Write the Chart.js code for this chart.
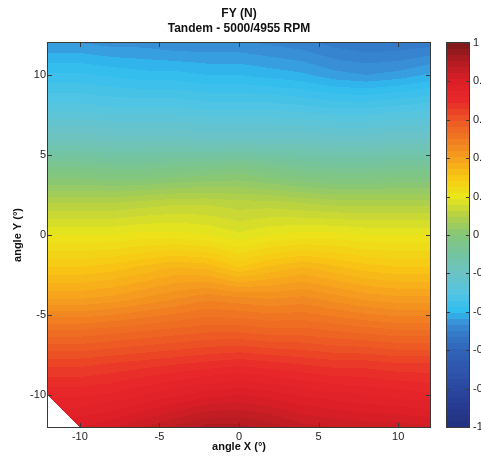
<!DOCTYPE html>
<html>
<head>
<meta charset="utf-8">
<script src="https://cdn.jsdelivr.net/npm/chart.js@4.4.1/dist/chart.umd.min.js"></script>
<style>
  html, body { margin: 0; padding: 0; background: #fff; }
  #wrap { position: relative; width: 481px; height: 457px; overflow: hidden; }
  #main { position: absolute; left: 0; top: 0; }
  #bar { position: absolute; left: 440px; top: 0; }
</style>
</head>
<body>
<div id="wrap">
  <canvas id="main" width="440" height="457"></canvas>
  <canvas id="bar" width="41" height="457"></canvas>
</div>
<script>
// grid nodes (degrees)
const angleX = [-12, -10, -8, -6, -4, -2, 0, 2, 4, 6, 8, 10, 12];
const angleY = [-12, -10, -8, -6, -4, -2, 0, 2, 4, 6, 8, 10, 12];

// FY values, one row per angleY (bottom row first), one column per angleX
const fyRows = [
  [NaN, 0.80, 0.82, 0.85, 0.88, 0.91, 0.91, 0.89, 0.86, 0.85, 0.84, 0.84, 0.83],
  [0.72, 0.72, 0.73, 0.75, 0.77, 0.79, 0.80, 0.79, 0.77, 0.76, 0.75, 0.74, 0.73],
  [0.64, 0.64, 0.65, 0.66, 0.67, 0.68, 0.69, 0.68, 0.67, 0.66, 0.66, 0.65, 0.65],
  [0.53, 0.53, 0.54, 0.55, 0.56, 0.57, 0.57, 0.56, 0.56, 0.55, 0.54, 0.53, 0.53],
  [0.40, 0.40, 0.41, 0.43, 0.45, 0.47, 0.46, 0.45, 0.46, 0.44, 0.42, 0.41, 0.41],
  [0.30, 0.30, 0.31, 0.33, 0.35, 0.34, 0.30, 0.33, 0.35, 0.33, 0.31, 0.30, 0.30],
  [0.20, 0.20, 0.20, 0.21, 0.21, 0.20, 0.18, 0.20, 0.21, 0.21, 0.20, 0.20, 0.20],
  [0.10, 0.10, 0.10, 0.11, 0.12, 0.12, 0.11, 0.11, 0.10, 0.09, 0.09, 0.09, 0.09],
  [-0.03, -0.03, -0.04, -0.04, -0.03, -0.02, -0.01, -0.03, -0.05, -0.06, -0.06, -0.05, -0.05],
  [-0.18, -0.18, -0.19, -0.19, -0.19, -0.20, -0.20, -0.20, -0.20, -0.21, -0.21, -0.20, -0.20],
  [-0.29, -0.29, -0.30, -0.30, -0.30, -0.31, -0.31, -0.31, -0.32, -0.33, -0.33, -0.32, -0.31],
  [-0.37, -0.37, -0.38, -0.39, -0.39, -0.40, -0.40, -0.41, -0.42, -0.44, -0.45, -0.44, -0.42],
  [-0.45, -0.45, -0.46, -0.46, -0.47, -0.47, -0.47, -0.48, -0.49, -0.51, -0.52, -0.52, -0.51]
];

const xTicks = [-10, -5, 0, 5, 10];
const yTicks = [-10, -5, 0, 5, 10];
const cbTicks = [-1, -0.8, -0.6, -0.4, -0.2, 0, 0.2, 0.4, 0.6, 0.8, 1];
const titleLines = ['FY (N)', 'Tandem - 5000/4955 RPM'];

// colormap as seen on the colorbar
const cmap = [
  [-1.0, '#23307d'], [-0.9, '#263a8f'], [-0.8, '#2b48a0'], [-0.7, '#2f55ad'],
  [-0.6, '#3064b8'], [-0.5, '#357ecb'], [-0.45, '#3a95da'], [-0.4, '#2ebdf0'],
  [-0.3, '#55c5e2'], [-0.2, '#6cc3c4'], [-0.1, '#74c4a0'], [0.0, '#84c67a'],
  [0.1, '#b4d044'], [0.2, '#ebe61a'], [0.3, '#f8c814'], [0.4, '#f6a01e'],
  [0.5, '#f07a22'], [0.6, '#ec5624'], [0.7, '#e8282a'], [0.8, '#dc1e26'],
  [0.9, '#b41c22'], [1.0, '#7a1818']
].map(([v, h]) => [v, parseInt(h.slice(1, 3), 16), parseInt(h.slice(3, 5), 16), parseInt(h.slice(5, 7), 16)]);

const FONT = 'Arial, "Liberation Sans", sans-serif';
const LEVEL = 0.025;

function colorOf(v) {
  if (v <= cmap[0][0]) return cmap[0].slice(1);
  for (let i = 1; i < cmap.length; i++) {
    if (v <= cmap[i][0]) {
      const a = cmap[i - 1], b = cmap[i];
      const t = (v - a[0]) / (b[0] - a[0]);
      return [1, 2, 3].map(k => Math.round(a[k] + (b[k] - a[k]) * t));
    }
  }
  return cmap[cmap.length - 1].slice(1);
}

function cellIndex(arr, v) {
  let i = 0;
  while (i < arr.length - 2 && v > arr[i + 1]) i++;
  return i;
}

function sampleFY(xv, yv) {
  const i = cellIndex(angleX, xv), j = cellIndex(angleY, yv);
  const u = (xv - angleX[i]) / (angleX[i + 1] - angleX[i]);
  const w = (yv - angleY[j]) / (angleY[j + 1] - angleY[j]);
  const v00 = fyRows[j][i], v10 = fyRows[j][i + 1];
  const v01 = fyRows[j + 1][i], v11 = fyRows[j + 1][i + 1];
  if (isNaN(v00)) {
    if (u + w < 1) return null;
    return v10 * (1 - w) + v01 * (1 - u) + v11 * (u + w - 1);
  }
  if (isNaN(v10) || isNaN(v01) || isNaN(v11)) return null;
  return v00 * (1 - u) * (1 - w) + v10 * u * (1 - w) + v01 * (1 - u) * w + v11 * u * w;
}

// filled contour of the FY grid, drawn through the chart scales
const fieldPlugin = {
  id: 'fyField',
  beforeDatasetsDraw(chart) {
    const { ctx, chartArea: a, scales: { x, y } } = chart;
    const w = Math.round(a.right - a.left), h = Math.round(a.bottom - a.top);
    const off = document.createElement('canvas');
    off.width = w; off.height = h;
    const octx = off.getContext('2d');
    const img = octx.createImageData(w, h);
    for (let py = 0; py < h; py++) {
      const yv = y.getValueForPixel(a.top + py + 0.5);
      for (let px = 0; px < w; px++) {
        const xv = x.getValueForPixel(a.left + px + 0.5);
        const v = sampleFY(xv, yv);
        if (v === null) continue;
        const c = colorOf((Math.floor(v / LEVEL) + 0.5) * LEVEL);
        const k = (py * w + px) * 4;
        img.data[k] = c[0]; img.data[k + 1] = c[1]; img.data[k + 2] = c[2]; img.data[k + 3] = 255;
      }
    }
    octx.putImageData(img, 0, 0);
    ctx.drawImage(off, a.left, a.top);
  },
  afterDatasetsDraw(chart) {
    const { ctx, chartArea: a, scales: { x, y } } = chart;
    ctx.save();
    ctx.strokeStyle = '#3a3a3a';
    ctx.lineWidth = 1;
    ctx.beginPath();
    xTicks.forEach(t => {
      const p = Math.round(x.getPixelForValue(t)) + 0.5;
      ctx.moveTo(p, a.bottom); ctx.lineTo(p, a.bottom - 4);
      ctx.moveTo(p, a.top); ctx.lineTo(p, a.top + 4);
    });
    yTicks.forEach(t => {
      const p = Math.round(y.getPixelForValue(t)) + 0.5;
      ctx.moveTo(a.left, p); ctx.lineTo(a.left + 4, p);
      ctx.moveTo(a.right, p); ctx.lineTo(a.right - 4, p);
    });
    ctx.stroke();
    ctx.strokeRect(a.left - 0.5, a.top - 0.5, a.right - a.left + 1, a.bottom - a.top + 1);
    ctx.restore();
  }
};

new Chart(document.getElementById('main'), {
  type: 'scatter',
  data: { datasets: [] },
  options: {
    responsive: false,
    animation: false,
    layout: { padding: { right: 10 } },
    plugins: {
      legend: { display: false },
      tooltip: { enabled: false },
      title: {
        display: true,
        text: titleLines,
        fullSize: false,
        color: '#111',
        font: { family: FONT, size: 12, weight: 'bold', lineHeight: 1.25 },
        padding: { top: 6, bottom: 7 }
      }
    },
    scales: {
      x: {
        type: 'linear', min: -12, max: 12,
        afterBuildTicks: s => { s.ticks = xTicks.map(v => ({ value: v })); },
        afterFit: s => { s.height = 30; },
        grid: { display: false, drawTicks: false },
        border: { display: false },
        ticks: { padding: 3, color: '#222', font: { family: FONT, size: 11 } },
        title: {
          display: true, text: 'angle X (°)', color: '#111',
          font: { family: FONT, size: 11, weight: 'bold' },
          padding: { top: 0, bottom: 3 }
        }
      },
      y: {
        type: 'linear', min: -12, max: 12,
        afterBuildTicks: s => { s.ticks = yTicks.map(v => ({ value: v })); },
        afterFit: s => { s.width = 48; },
        grid: { display: false, drawTicks: false },
        border: { display: false },
        ticks: { padding: 2, color: '#222', font: { family: FONT, size: 11 } },
        title: {
          display: true, text: 'angle Y (°)', color: '#111',
          font: { family: FONT, size: 11, weight: 'bold' },
          padding: { top: 11, bottom: 0 }
        }
      }
    }
  },
  plugins: [fieldPlugin]
});

// colorbar
const colorbarPlugin = {
  id: 'colorbar',
  beforeDatasetsDraw(chart) {
    const { ctx, chartArea: a, scales: { y } } = chart;
    const bands = 64;
    for (let py = Math.floor(a.top); py < Math.ceil(a.bottom); py++) {
      const v = y.getValueForPixel(py + 0.5);
      const b = Math.min(bands - 1, Math.max(0, Math.floor((v + 1) / 2 * bands)));
      const c = colorOf(-1 + (b + 0.5) / bands * 2);
      ctx.fillStyle = `rgb(${c[0]},${c[1]},${c[2]})`;
      ctx.fillRect(a.left, py, a.right - a.left, 1);
    }
    ctx.save();
    ctx.strokeStyle = '#3a3a3a';
    ctx.lineWidth = 1;
    ctx.beginPath();
    cbTicks.forEach(t => {
      const p = Math.round(y.getPixelForValue(t)) + 0.5;
      ctx.moveTo(a.left, p); ctx.lineTo(a.left + 3, p);
      ctx.moveTo(a.right, p); ctx.lineTo(a.right - 3, p);
    });
    ctx.stroke();
    ctx.strokeRect(a.left - 0.5, a.top - 0.5, a.right - a.left + 1, a.bottom - a.top + 1);
    ctx.restore();
  }
};

new Chart(document.getElementById('bar'), {
  type: 'scatter',
  data: { datasets: [] },
  options: {
    responsive: false,
    animation: false,
    layout: { padding: { left: 7, top: 43, bottom: 30, right: 0 } },
    plugins: { legend: { display: false }, tooltip: { enabled: false } },
    scales: {
      x: { display: false, min: 0, max: 1 },
      y: {
        position: 'right', min: -1, max: 1,
        afterBuildTicks: s => { s.ticks = cbTicks.map(v => ({ value: v })); },
        afterFit: s => { s.width = 12; },
        grid: { display: false, drawTicks: false },
        border: { display: false },
        ticks: {
          padding: 4, color: '#222', font: { family: FONT, size: 11 },
          callback: v => String(v)
        }
      }
    }
  },
  plugins: [colorbarPlugin]
});
</script>
</body>
</html>
